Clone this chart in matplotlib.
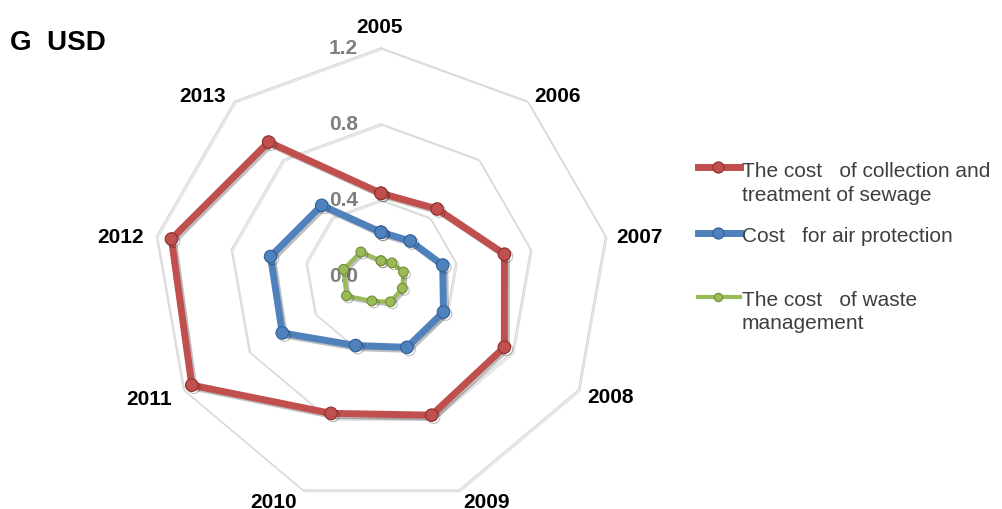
import numpy as np
import matplotlib
matplotlib.use("Agg")
import matplotlib.pyplot as plt
import matplotlib.patheffects as pe
from matplotlib.lines import Line2D

plt.rcParams['font.family'] = ['Liberation Sans', 'DejaVu Sans']

years = ['2005', '2006', '2007', '2008', '2009', '2010', '2011', '2012', '2013']
sewage = [0.435, 0.46, 0.66, 0.75, 0.78, 0.77, 1.15, 1.12, 0.92]
air = [0.23, 0.24, 0.33, 0.38, 0.40, 0.39, 0.60, 0.59, 0.485]
waste = [0.08, 0.09, 0.12, 0.13, 0.145, 0.14, 0.21, 0.20, 0.165]
ticks = [0.0, 0.4, 0.8, 1.2]

names = [['The cost   of collection and', 'treatment of sewage'],
         ['Cost   for air protection'],
         ['The cost   of waste', 'management']]
colors = ['#C0504D', '#4F81BD', '#9BBB59']
edges = ['#8c2f2c', '#2f5f96', '#6f8f35']

n = len(years)
theta = np.linspace(0, 2 * np.pi, n, endpoint=False)
theta_c = np.append(theta, theta[0])

fig = plt.figure(figsize=(10.02, 5.10), dpi=100)
ax = fig.add_axes([0.1527, 0.010, 0.455, 0.894], projection='polar')
ax.set_theta_offset(np.pi / 2)
ax.set_theta_direction(-1)
ax.set_ylim(0, 1.2)
ax.set_xticks([])
ax.set_yticks([])
ax.grid(False)
ax.spines['polar'].set_visible(False)
ax.patch.set_alpha(0)

# nonagon rings instead of circular grid
grid_fx = [pe.SimpleLineShadow(offset=(1, -1), alpha=0.12), pe.Normal()]
for t in ticks[1:]:
    ax.plot(theta_c, [t] * (n + 1), color='#d9d9d9', lw=1.0,
            clip_on=False, path_effects=grid_fx, zorder=1)

for t in ticks:
    ax.annotate(f'{t:.1f}', xy=(0, t), xytext=(-16.5, 0),
                textcoords='offset points', ha='right', va='center',
                color='#7f7f7f', fontweight='bold', fontsize=15, zorder=2)

# year labels sit just outside the outer ring (offsets in pixels)
label_dx = [-1, 30, 33.5, 32, 27.5, -29.5, -34.5, -36, -32]
label_dy = [-16, 0, 5.6, 12, 16.7, 16.7, 14, 5.6, 0]
for th, yr, dx, dy in zip(theta, years, label_dx, label_dy):
    ax.annotate(yr, xy=(th, ticks[-1]), xytext=(dx * 0.72, -dy * 0.72),
                textcoords='offset points', ha='center', va='baseline',
                fontweight='bold', fontsize=15, color='#000000',
                annotation_clip=False)

line_fx = [pe.SimpleLineShadow(offset=(1.5, -1.5), alpha=0.25), pe.Normal()]
series = [sewage, air, waste]
widths = [5, 5, 3]
msizes = [9, 9, 7]
for vals, c, ec, lw, ms in zip(series, colors, edges, widths, msizes):
    ax.plot(theta_c, np.append(vals, vals[0]), color=c, lw=lw, marker='o',
            markersize=ms, markerfacecolor=c, markeredgecolor=ec,
            markeredgewidth=0.8, path_effects=line_fx, zorder=3, clip_on=False)

fig.text(0.010, 0.915, 'G  USD', fontsize=20, fontweight='bold', ha='left',
         va='center')

# legend drawn by hand to keep the uneven spacing
H = 510.0
leg_line_y = [168, 234, 298]
leg_base_y = [[177, 201], [242], [306, 329]]
for c, ec, lw, ms, lines, ly, bys in zip(colors, edges, widths, msizes, names,
                                         leg_line_y, leg_base_y):
    y = 1 - ly / H
    fig.add_artist(Line2D([0.6966, 0.7166, 0.7385], [y, y, y], color=c,
                          lw=lw, marker='o', markevery=[1], markersize=ms - 1,
                          markerfacecolor=c, markeredgecolor=ec,
                          markeredgewidth=0.8, transform=fig.transFigure))
    for txt, by in zip(lines, bys):
        fig.text(0.7405, 1 - by / H, txt, fontsize=15, color='#3f3f3f',
                 ha='left', va='baseline')

fig.savefig('out.png', dpi=100)
